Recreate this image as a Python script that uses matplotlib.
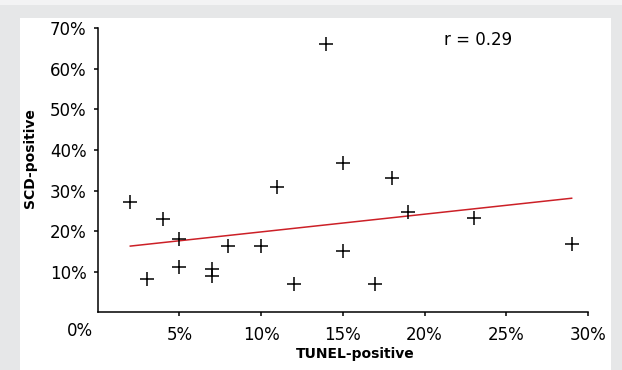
import numpy as np
import matplotlib
matplotlib.use('Agg')
import matplotlib.pyplot as plt
from matplotlib.patches import Rectangle

# data (percent)
tunel = [2, 3, 4, 5, 5, 7, 7, 8, 10, 11, 12, 14, 15, 15, 17, 18, 19, 23, 29]
scd = [27.1, 8.1, 23.1, 18.0, 11.2, 10.7, 8.9, 16.3, 16.3, 30.9, 6.9,
       66.2, 36.9, 15.1, 6.9, 33.1, 24.8, 23.3, 16.9]
trend_x = [2, 29]
trend_y = [16.3, 28.1]
x_ticks = [5, 10, 15, 20, 25, 30]
y_ticks = [10, 20, 30, 40, 50, 60, 70]
r_label = 'r = 0.29'

plt.rcParams['font.family'] = ['DejaVu Sans']

fig = plt.figure(figsize=(6.22, 3.70), dpi=100)
fig.patch.set_facecolor('#e6e7e8')
fig.add_artist(Rectangle((20 / 622, 0), 591 / 622, 352 / 370,
                         transform=fig.transFigure, facecolor='white',
                         edgecolor='none', zorder=0))
fig.add_artist(Rectangle((0, 365 / 370), 1, 5 / 370,
                         transform=fig.transFigure, facecolor='#f3f3f4',
                         edgecolor='none', zorder=0))

ax = fig.add_axes([97.6 / 622, 57.8 / 370, (588 - 97.6) / 622, (341.7 - 57.8) / 370])
ax.set_facecolor('none')

ax.plot(tunel, scd, linestyle='none', marker='+', markersize=9.5,
        markeredgewidth=1.1, color='black', zorder=3)
ax.plot(trend_x, trend_y, color='#cc2027', linewidth=1.1, zorder=2)

ax.set_xlim(0, 30)
ax.set_ylim(0, 70)
ax.set_xticks(x_ticks)
ax.set_xticklabels(['%d%%' % v for v in x_ticks])
ax.set_yticks(y_ticks)
ax.set_yticklabels(['%d%%' % v for v in y_ticks])

for side in ['top', 'right']:
    ax.spines[side].set_visible(False)
for side in ['left', 'bottom']:
    ax.spines[side].set_linewidth(1.1)
    ax.spines[side].set_color('black')

ax.tick_params(axis='y', direction='out', length=3, width=1.1, pad=5,
               labelsize=12, colors='black')
ax.tick_params(axis='x', direction='out', length=3, width=1.1, pad=7,
               labelsize=12, colors='black')

# shared origin label
ax.text(-0.037, -0.067, '0%', transform=ax.transAxes, ha='center',
        va='center', fontsize=12)

ax.text(23.3, 67.0, r_label, ha='center', va='center', fontsize=12)

fig.text(30 / 622, 1 - 158 / 370, 'SCD-positive', rotation=90, ha='center',
         va='center', fontsize=10, fontweight='bold')
fig.text(355 / 622, 1 - 354 / 370, 'TUNEL-positive', ha='center',
         va='center', fontsize=10, fontweight='bold')

fig.savefig('out.png', dpi=100, facecolor=fig.get_facecolor())
